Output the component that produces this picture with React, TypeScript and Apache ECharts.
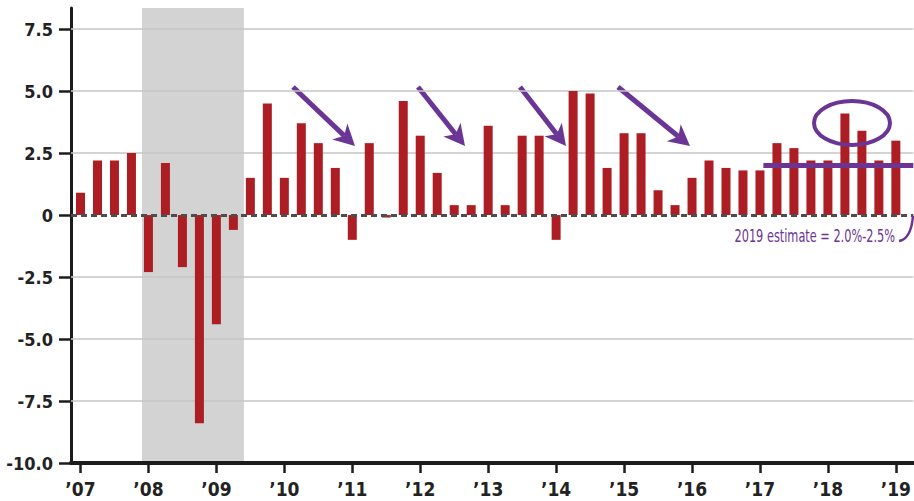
import React, { useEffect, useRef } from "react";
import * as echarts from "echarts";

// Quarterly real GDP growth (annualized %), 2007 Q1 – 2019 Q1
const yearLabels = ["’07", "’08", "’09", "’10", "’11", "’12", "’13", "’14", "’15", "’16", "’17", "’18", "’19"];
const gdp = [
  0.9, 2.2, 2.2, 2.5,
  -2.3, 2.1, -2.1, -8.4,
  -4.4, -0.6, 1.5, 4.5,
  1.5, 3.7, 2.9, 1.9,
  -1.0, 2.9, -0.1, 4.6,
  3.2, 1.7, 0.4, 0.4,
  3.6, 0.4, 3.2, 3.2,
  -1.0, 5.0, 4.9, 1.9,
  3.3, 3.3, 1.0, 0.4,
  1.5, 2.2, 1.9, 1.8,
  1.8, 2.9, 2.7, 2.2,
  2.2, 4.1, 3.4, 2.2,
  3.0,
];
const yTicks = [-10, -7.5, -5, -2.5, 0, 2.5, 5, 7.5];
const gridValues = [-7.5, -5, -2.5, 2.5, 5, 7.5];
const yearTickIdx = [0, 4, 8, 12, 16, 20, 24, 28, 32, 36, 40, 44, 48];
const recession = [3.62, 9.62]; // in quarter-index units
const estimateLevel = 2.0;
const estimateFrom = 40.2;
const estimateText = "2019 estimate = 2.0%-2.5%";

const PURPLE = "#6b3595";
const RED = "#ad1e24";
const AXIS = "#1c1c1c";
const FONT = '"DejaVu Sans Condensed", "Liberation Sans Narrow", "Arial Narrow", sans-serif';

const X_MIN = -0.559;
const X_MAX = 49.03;
const Y_MIN = -10;
const Y_MAX = 8.35;

function arrow(tail: number[], tip: number[]) {
  const dx = tip[0] - tail[0];
  const dy = tip[1] - tail[1];
  const len = Math.hypot(dx, dy);
  const ux = dx / len;
  const uy = dy / len;
  const px = -uy;
  const py = ux;
  const headLen = 21;
  const headW = 11;
  const notch = 6;
  const bx = tip[0] - ux * headLen;
  const by = tip[1] - uy * headLen;
  const nx = tip[0] - ux * (headLen - notch);
  const ny = tip[1] - uy * (headLen - notch);
  return {
    type: "group",
    children: [
      {
        type: "line",
        shape: { x1: tail[0], y1: tail[1], x2: nx, y2: ny },
        style: { stroke: PURPLE, lineWidth: 5 },
      },
      {
        type: "polygon",
        shape: {
          points: [
            [tip[0], tip[1]],
            [bx + px * headW, by + py * headW],
            [nx, ny],
            [bx - px * headW, by - py * headW],
          ],
        },
        style: { fill: PURPLE },
      },
    ],
  };
}

const arrows = [
  [[293, 87], [355, 146]],
  [[418, 87], [465, 146]],
  [[520, 87], [566, 146]],
  [[618, 87], [690, 146]],
];

export default function App() {
  const ref = useRef<HTMLDivElement>(null);
  useEffect(() => {
    if (!ref.current) return;
    const chart = echarts.init(ref.current, undefined, { renderer: "svg" });
    const points = gdp.map((v, i) => [i, v]);
    chart.setOption({
      animation: false,
      backgroundColor: "#ffffff",
      grid: { left: 71, right: 0, top: 8, bottom: 38 },
      xAxis: {
        type: "value",
        min: X_MIN,
        max: X_MAX,
        axisLine: { show: true, onZero: false, lineStyle: { color: AXIS, width: 4 } },
        axisTick: {
          show: true,
          customValues: yearTickIdx,
          length: 10,
          lineStyle: { color: AXIS, width: 2.5 },
        },
        axisLabel: {
          show: true,
          customValues: yearTickIdx,
          formatter: (v: number) => yearLabels[Math.round(v / 4)] ?? "",
          fontSize: 19,
          lineHeight: 19,
          fontWeight: "bold",
          fontFamily: FONT,
          color: "#222",
          margin: 16,
        },
        splitLine: { show: false },
      },
      yAxis: {
        type: "value",
        min: Y_MIN,
        max: Y_MAX,
        axisLine: { show: true, onZero: false, lineStyle: { color: AXIS, width: 3 } },
        axisTick: {
          show: true,
          customValues: yTicks,
          length: 12,
          lineStyle: { color: AXIS, width: 2.5 },
        },
        axisLabel: {
          show: true,
          customValues: yTicks,
          formatter: (v: number) => (v === 0 ? "0" : v.toFixed(1)),
          fontSize: 18,
          fontWeight: "bold",
          fontFamily: FONT,
          color: "#222",
          margin: 18,
        },
        splitLine: { show: false },
      },
      series: [
        {
          type: "bar",
          data: points,
          barWidth: 9,
          itemStyle: { color: RED },
          z: 2,
          silent: true,
          markArea: {
            silent: true,
            z: 0,
            itemStyle: { color: "#d3d3d3" },
            data: [[{ xAxis: recession[0], yAxis: Y_MIN }, { xAxis: recession[1], yAxis: Y_MAX }]],
          },
          markLine: {
            silent: true,
            z: 1,
            symbol: "none",
            label: { show: false },
            lineStyle: { color: "#c6c6c6", width: 1.5, type: "solid" },
            data: gridValues.map((v) => ({ yAxis: v })),
          },
        },
        {
          type: "line",
          data: points,
          symbol: "none",
          silent: true,
          lineStyle: { opacity: 0 },
          z: 3,
          markLine: {
            silent: true,
            z: 5,
            symbol: "none",
            label: { show: false },
            data: [
              { yAxis: 0, lineStyle: { color: "#4d4d4d", width: 3, type: [6, 4] } },
              [
                { coord: [estimateFrom, estimateLevel], lineStyle: { color: PURPLE, width: 5, type: "solid" } },
                { coord: [X_MAX, estimateLevel] },
              ],
            ],
          },
        },
      ],
      graphic: [
        ...arrows.map((a) => ({ ...arrow(a[0], a[1]), z: 10 })),
        {
          type: "ellipse",
          z: 10,
          shape: { cx: 852, cy: 123, rx: 38, ry: 22 },
          style: { fill: "none", stroke: PURPLE, lineWidth: 4 },
        },
        {
          type: "text",
          z: 10,
          x: 895,
          y: 236,
          scaleX: 0.7,
          style: {
            text: estimateText,
            fill: PURPLE,
            fontSize: 18,
            fontFamily: FONT,
            align: "right",
            verticalAlign: "middle",
          },
        },
        {
          type: "bezierCurve",
          z: 10,
          shape: { x1: 899, y1: 241, x2: 913, y2: 216, cpx1: 911, cpy1: 239 },
          style: { stroke: PURPLE, lineWidth: 2.5, fill: "none" },
        },
      ],
    });
    return () => chart.dispose();
  }, []);
  return <div ref={ref} style={{ position: "fixed", left: 0, top: 0, width: 914, height: 501 }} />;
}
